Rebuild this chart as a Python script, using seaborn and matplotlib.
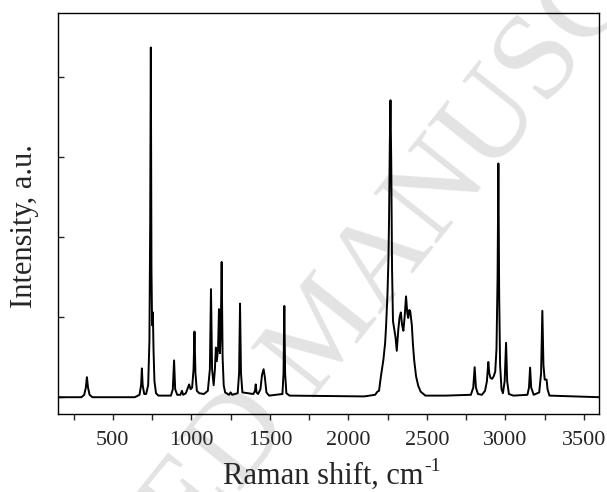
import matplotlib
matplotlib.use("Agg")
import matplotlib.pyplot as plt
import seaborn as sns
import pandas as pd
from matplotlib.ticker import MultipleLocator

# Raman spectrum trace vertices (wavenumber, intensity a.u.)
wavenumber = [
    155, 300, 318, 328, 335, 342, 352, 370,
    640, 670, 680, 685, 690, 700, 712, 725, 733, 738, 742, 746, 750, 755, 759, 765, 775, 790,
    870, 882, 890, 897, 910, 930, 940, 948, 965, 980, 986, 995, 1005, 1014, 1020, 1026, 1035, 1050,
    1080, 1105, 1118, 1125, 1132, 1142, 1150, 1156, 1162, 1170, 1176, 1182, 1187, 1193, 1199, 1206, 1215,
    1240, 1250, 1260, 1295, 1304, 1310, 1316, 1325,
    1395, 1405, 1410, 1415, 1425, 1440, 1450, 1460, 1468, 1478, 1495,
    1580, 1587, 1592, 1597, 1605, 1625,
    2100, 2170, 2185, 2195, 2207, 2223, 2234, 2240, 2249, 2255, 2259, 2264, 2268, 2273, 2278, 2284, 2291,
    2300, 2308, 2318, 2326, 2334, 2342, 2350, 2358, 2367, 2375, 2381, 2388, 2394, 2404, 2411, 2419,
    2431, 2445, 2460, 2490,
    2620, 2780, 2795, 2804, 2812, 2825, 2850, 2870, 2882, 2891, 2897, 2905, 2915, 2925, 2935, 2943,
    2950, 2955, 2960, 2966, 2975, 2984, 2995, 3004, 3011, 3022, 3050,
    3140, 3150, 3157, 3164, 3180, 3215, 3227, 3235, 3242, 3250, 3262, 3268, 3280, 3598,
]
intensity = [
    0.0, 0.0, 0.03, 0.12, 0.25, 0.12, 0.03, 0.0,
    0.0, 0.03, 0.15, 0.36, 0.15, 0.04, 0.04, 0.15, 0.7, 2.2, 4.37, 1.6, 0.9, 1.06, 0.6, 0.2, 0.05, 0.02,
    0.02, 0.1, 0.46, 0.1, 0.03, 0.03, 0.08, 0.03, 0.05, 0.13, 0.16, 0.1, 0.12, 0.35, 0.82, 0.3, 0.08, 0.05,
    0.04, 0.08, 0.35, 1.35, 0.35, 0.15, 0.35, 0.62, 0.45, 0.6, 1.1, 0.55, 0.8, 1.69, 0.5, 0.15, 0.06,
    0.03, 0.06, 0.03, 0.05, 0.3, 1.17, 0.3, 0.06,
    0.04, 0.08, 0.16, 0.06, 0.04, 0.1, 0.28, 0.35, 0.25, 0.06, 0.02,
    0.04, 0.3, 1.14, 0.3, 0.05, 0.02,
    0.01, 0.03, 0.07, 0.08, 0.26, 0.47, 0.68, 0.89, 1.3, 1.72, 2.25, 3.2, 3.71, 2.9, 1.6, 0.95, 0.86,
    0.75, 0.58, 0.85, 1.0, 1.06, 0.9, 0.83, 1.0, 1.26, 1.05, 0.99, 1.09, 1.07, 0.9, 0.66, 0.46,
    0.26, 0.14, 0.07, 0.02,
    0.02, 0.03, 0.12, 0.375, 0.12, 0.04, 0.03, 0.08, 0.2, 0.44, 0.3, 0.24, 0.23, 0.26, 0.32, 0.6,
    1.5, 2.92, 1.3, 0.4, 0.1, 0.05, 0.2, 0.68, 0.2, 0.04, 0.02,
    0.03, 0.12, 0.37, 0.12, 0.03, 0.06, 0.3, 1.08, 0.4, 0.22, 0.22, 0.1, 0.02, 0.0,
]

x_major_ticks = [500, 1000, 1500, 2000, 2500, 3000, 3500]
x_label = "Raman shift, cm"
x_label_sup = "-1"
y_label = "Intensity, a.u."
watermark = "ACCEPTED MANUSCRIPT"

sns.set_style("white")
plt.rcParams["font.family"] = ["Liberation Serif", "DejaVu Serif"]

df = pd.DataFrame({"wavenumber": wavenumber, "intensity": intensity})

fig = plt.figure(figsize=(6.07, 4.92), dpi=100)
ax = fig.add_axes([0.0961, 0.1585, 0.8913, 0.8150])

wm = fig.text(0.54, 0.325, watermark, rotation=51.5, rotation_mode="anchor",
              ha="center", va="center", fontsize=88, color="#e3e3e3",
              family="Liberation Serif", zorder=-1)
ax.patch.set_alpha(0)

sns.lineplot(data=df, x="wavenumber", y="intensity", ax=ax, color="black",
             linewidth=1.4, estimator=None, sort=False)

ax.set_xlim(153, 3598)
ax.set_ylim(-0.21, 4.8)
ax.set_xticks(x_major_ticks)
ax.xaxis.set_minor_locator(MultipleLocator(250))
ax.set_yticks([0, 1, 2, 3, 4])
ax.set_yticklabels([])

ax.tick_params(axis="x", which="major", direction="out", length=4, width=1.0,
               labelsize=16, pad=8, bottom=True, top=False)
ax.tick_params(axis="x", which="minor", direction="out", length=4, width=1.0,
               bottom=True, top=False)
ax.tick_params(axis="y", which="major", direction="in", length=4, width=1.0,
               left=True, right=False)

for s in ax.spines.values():
    s.set_visible(True)
    s.set_linewidth(1.0)
    s.set_color("black")

ax.set_xlabel(x_label, fontsize=22)
ax.set_ylabel(y_label, fontsize=22)
ax.xaxis.set_label_coords(0.49, -0.118)
ax.yaxis.set_label_coords(-0.036, 0.469)

fig.canvas.draw()
bb = ax.xaxis.label.get_window_extent()
W, H = fig.bbox.width, fig.bbox.height
fig.text((bb.x1 + 1) / W, (bb.y1 + 3) / H, x_label_sup, fontsize=14,
         ha="left", va="top")

fig.savefig("out.png", dpi=100)
